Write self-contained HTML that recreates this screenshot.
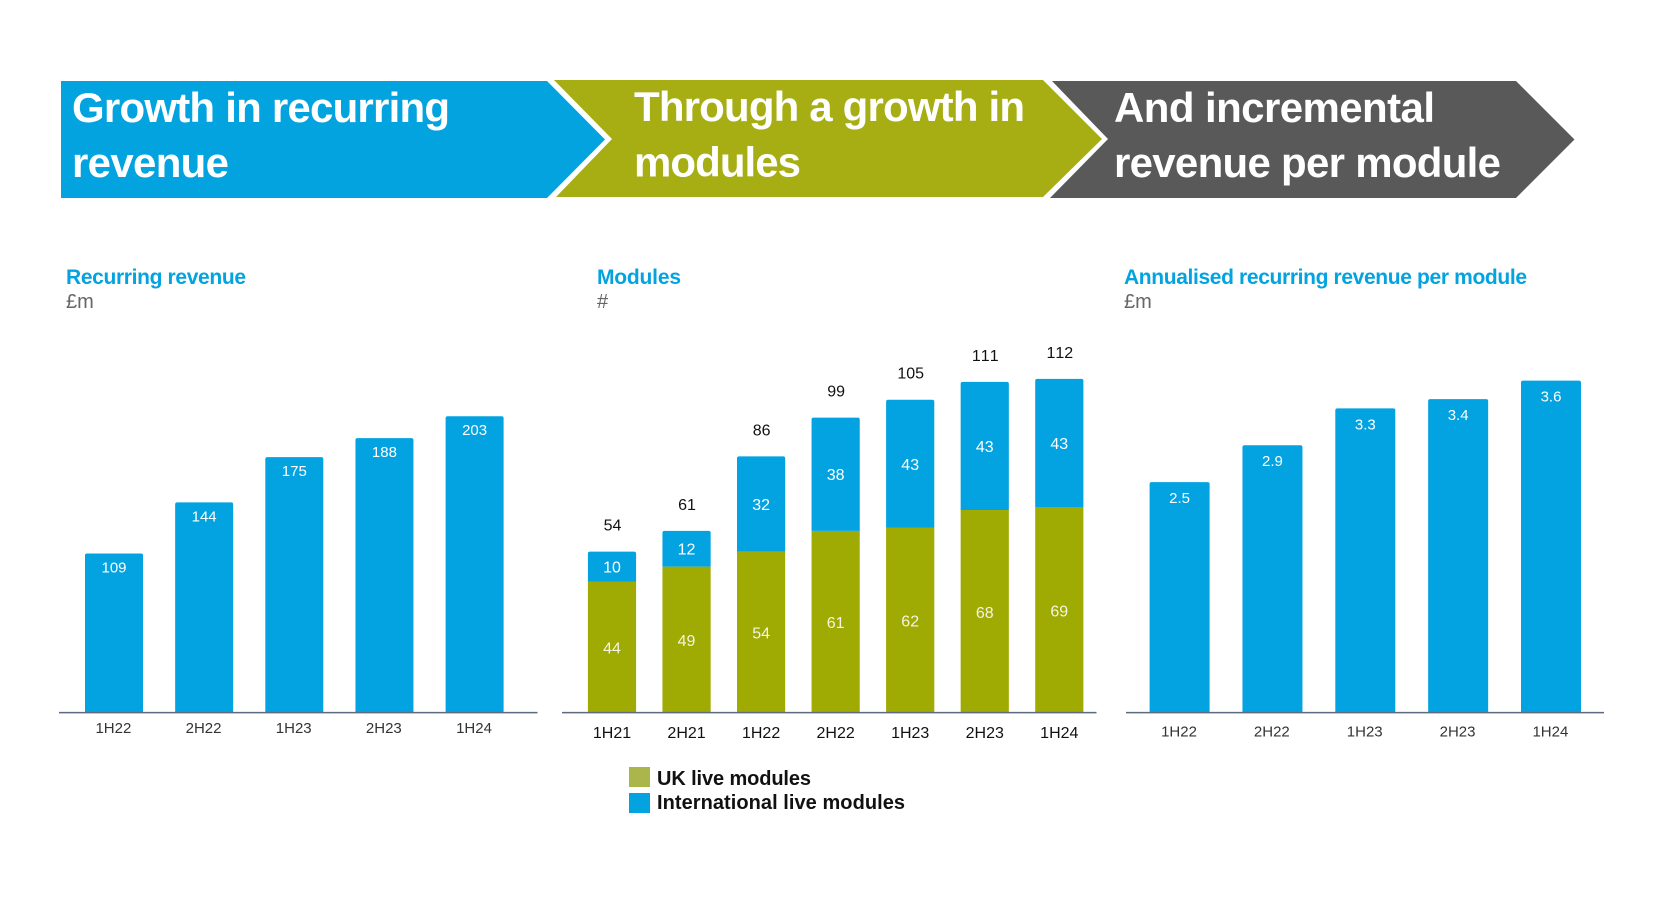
<!DOCTYPE html>
<html lang="en">
<head>
<meta charset="utf-8">
<title>Growth in recurring revenue, modules and revenue per module</title>
<style>
  html, body { margin: 0; padding: 0; background: #ffffff; }
  body { width: 1654px; height: 904px; overflow: hidden; }
  svg { display: block; font-family: "Liberation Sans", Arial, sans-serif; }
  #chart-recurring text, #chart-modules text, #chart-per-module text { font-kerning: none; }
</style>
</head>
<body>
<svg id="stage" width="1654" height="904" viewBox="0 0 1654 904" xmlns="http://www.w3.org/2000/svg">
  <rect x="0" y="0" width="1654" height="904" fill="#ffffff"/>

  <g font-weight="700" font-size="42" fill="#ffffff">
    <polygon points="61,81 547,81 605,139.5 547,198 61,198" fill="#03a3e0"/>
    <polygon points="554,80 1043,80 1102,139 1043,197 556,197 612,139" fill="#a6ae14"/>
    <polygon points="1052,81 1516,81 1574.5,139.5 1516,198 1050,198 1108,139" fill="#595959"/>
    <text x="72" y="122" textLength="378" lengthAdjust="spacing">Growth in recurring</text>
    <text x="72" y="177" textLength="157" lengthAdjust="spacing">revenue</text>
    <text x="634" y="121" textLength="391" lengthAdjust="spacing">Through a growth in</text>
    <text x="634" y="176.5" textLength="167" lengthAdjust="spacing">modules</text>
    <text x="1114" y="122" textLength="321" lengthAdjust="spacing">And incremental</text>
    <text x="1114" y="177" textLength="387" lengthAdjust="spacing">revenue per module</text>
  </g>

  <g font-size="21">
    <text x="66" y="284" font-weight="700" fill="#03a3e0" textLength="180" lengthAdjust="spacing">Recurring revenue</text>
    <text x="66" y="308" fill="#666666" font-size="20">£m</text>
    <text x="597" y="284" font-weight="700" fill="#03a3e0" textLength="84" lengthAdjust="spacing">Modules</text>
    <text x="597" y="308" fill="#666666" font-size="20">#</text>
    <text x="1124" y="284" font-weight="700" fill="#03a3e0" textLength="403" lengthAdjust="spacing">Annualised recurring revenue per module</text>
    <text x="1124" y="308" fill="#666666" font-size="20">£m</text>
  </g>

  <g id="chart-recurring"></g>
  <g id="chart-modules"></g>
  <g id="chart-per-module"></g>

  <g font-size="20" font-weight="700" fill="#111111">
    <g>
      <rect x="629" y="767" width="21" height="20" fill="#aab64a"/>
      <text x="657" y="785" textLength="154" lengthAdjust="spacing">UK live modules</text>
    </g>
    <g>
      <rect x="629" y="793" width="21" height="20" fill="#03a3e0"/>
      <text x="657" y="809" textLength="248" lengthAdjust="spacing">International live modules</text>
    </g>
  </g>
</svg>

<script>
const recurringCategories = ['1H22', '2H22', '1H23', '2H23', '1H24'];
const recurringValues = [109, 144, 175, 188, 203];

const moduleCategories = ['1H21', '2H21', '1H22', '2H22', '1H23', '2H23', '1H24'];
const ukModules = [44, 49, 54, 61, 62, 68, 69];
const internationalModules = [10, 12, 32, 38, 43, 43, 43];
const moduleTotals = [54, 61, 86, 99, 105, 111, 112];

const perModuleCategories = ['1H22', '2H22', '1H23', '2H23', '1H24'];
const perModuleValues = [2.5, 2.9, 3.3, 3.4, 3.6];

const NS = 'http://www.w3.org/2000/svg';
const BLUE = '#02a3e0';
const OLIVE = '#9fab02';
const BASELINE = 712.6;

function bandScale(first, step) {
  return function (i) { return first + i * step; };
}
function linearScale(pxPerUnit) {
  return function (v) { return BASELINE - v * pxPerUnit; };
}
function topRoundedPath(cx, w, yTop, yBottom) {
  const r = 2;
  const l = cx - w / 2;
  const t = cx + w / 2;
  return 'M' + l + ' ' + yBottom + 'V' + (yTop + r) + 'Q' + l + ' ' + yTop + ' ' + (l + r) + ' ' + yTop +
    'H' + (t - r) + 'Q' + t + ' ' + yTop + ' ' + t + ' ' + (yTop + r) + 'V' + yBottom + 'Z';
}
function addText(parent, str, x, y, size, fill) {
  const t = document.createElementNS(NS, 'text');
  t.setAttribute('x', x);
  t.setAttribute('y', y);
  t.setAttribute('font-size', size);
  t.setAttribute('fill', fill);
  t.setAttribute('text-anchor', 'middle');
  t.textContent = str;
  parent.appendChild(t);
  return t;
}
function addBar(parent, d, fill) {
  const p = document.createElementNS(NS, 'path');
  p.setAttribute('d', d);
  p.setAttribute('fill', fill);
  parent.appendChild(p);
  return p;
}
function addAxis(parent, x1, x2) {
  const l = document.createElementNS(NS, 'line');
  l.setAttribute('x1', x1);
  l.setAttribute('x2', x2);
  l.setAttribute('y1', BASELINE);
  l.setAttribute('y2', BASELINE);
  l.setAttribute('stroke', '#5c6a7f');
  l.setAttribute('stroke-width', '1.5');
  parent.appendChild(l);
  return l;
}

function drawSimpleChart(groupId, categories, values, firstX, step, barW, pxPerUnit, labelOffset, catBaseline, axisX1, axisX2, prefix) {
  const g = document.getElementById(groupId);
  const x = bandScale(firstX, step);
  const y = linearScale(pxPerUnit);
  values.forEach(function (v, i) {
    const bar = addBar(g, topRoundedPath(x(i), barW, y(v), BASELINE), BLUE);
    
    
    const label = addText(g, String(v), x(i), y(v) + labelOffset, 15, '#ffffff');
    
    
    const cat = addText(g, categories[i], x(i) - 0.6, catBaseline, 15, '#333333');
    
    
  });
  const axis = addAxis(g, axisX1, axisX2);
  
  
}

drawSimpleChart('chart-recurring', recurringCategories, recurringValues, 114, 90.15, 58, 1.46, 19, 733, 59, 537.5, 'recurring-revenue');
drawSimpleChart('chart-per-module', perModuleCategories, perModuleValues, 1179.6, 92.85, 60, 92.2, 21, 736.7, 1126, 1604, 'revenue-per-module');

(function drawModules() {
  const g = document.getElementById('chart-modules');
  const x = bandScale(612, 74.55);
  const y = linearScale(2.98);
  const barW = 48.2;
  moduleCategories.forEach(function (c, i) {
    const key = c.toLowerCase();
    const uk = ukModules[i];
    const intl = internationalModules[i];
    const stackTop = uk + intl;
    const l = x(i) - barW / 2;
    const ukBar = addBar(g, 'M' + l + ' ' + BASELINE + 'V' + y(uk) + 'H' + (l + barW) + 'V' + BASELINE + 'Z', OLIVE);
    
    
    const intlBar = addBar(g, topRoundedPath(x(i), barW, y(stackTop), y(uk)), BLUE);
    
    
    const ukLabel = addText(g, String(uk), x(i), (y(uk) + BASELINE) / 2 + 6.5, 16, '#f4f4e4');
    
    
    const intlLabel = addText(g, String(intl), x(i), (y(stackTop) + y(uk)) / 2 + 6, 16, '#ffffff');
    
    
    const total = addText(g, String(moduleTotals[i]), x(i) + 0.5, y(moduleTotals[i]) - 21, 16, '#111111');
    
    
    const cat = addText(g, c, x(i), 738.2, 16, '#111111');
    
    
  });
  const axis = addAxis(g, 562, 1096.5);
  
  
})();
</script>
</body>
</html>
